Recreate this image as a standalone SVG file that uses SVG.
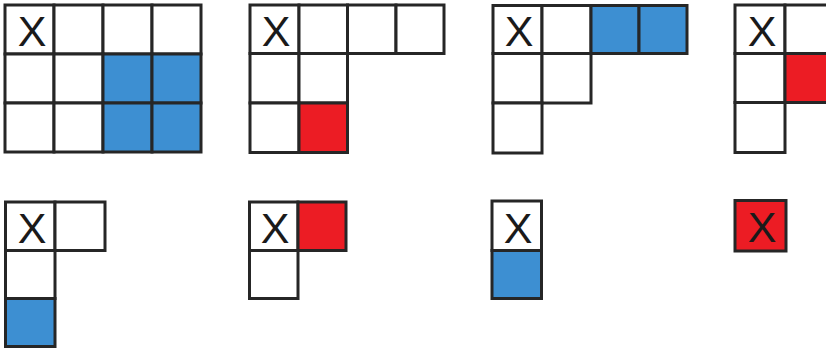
<svg xmlns="http://www.w3.org/2000/svg" width="826" height="351" viewBox="0 0 826 351">
<style>
.w,.b,.r{stroke:#262626;stroke-width:3}
.w{fill:#fff}
.b{fill:#3d8fd2}
.r{fill:#ec1c24}
.x{font-family:"Liberation Sans",Arial,sans-serif;font-size:43px;fill:#1a1a1a;text-anchor:middle}
</style>
<rect x="0" y="0" width="826" height="351" fill="#fff"/>
<g id="grid1">
<rect class="w" x="5" y="5" width="49" height="49"/>
<rect class="w" x="54" y="5" width="49" height="49"/>
<rect class="w" x="103" y="5" width="49" height="49"/>
<rect class="w" x="152" y="5" width="49" height="49"/>
<rect class="w" x="5" y="54" width="49" height="49"/>
<rect class="w" x="54" y="54" width="49" height="49"/>
<rect class="b" x="103" y="54" width="49" height="49"/>
<rect class="b" x="152" y="54" width="49" height="49"/>
<rect class="w" x="5" y="103" width="49" height="49"/>
<rect class="w" x="54" y="103" width="49" height="49"/>
<rect class="b" x="103" y="103" width="49" height="49"/>
<rect class="b" x="152" y="103" width="49" height="49"/>
<text class="x" x="32" y="46">X</text>
</g>
<g id="grid2">
<rect class="w" x="250" y="5" width="49" height="48.5"/>
<rect class="w" x="299" y="5" width="48.5" height="48.5"/>
<rect class="w" x="347.5" y="5" width="48.5" height="48.5"/>
<rect class="w" x="396" y="5" width="48" height="48.5"/>
<rect class="w" x="250" y="53.5" width="49" height="49.5"/>
<rect class="w" x="299" y="53.5" width="48.5" height="49.5"/>
<rect class="w" x="250" y="103" width="49" height="49.5"/>
<rect class="r" x="299" y="103" width="48.5" height="49.5"/>
<text class="x" x="276" y="46">X</text>
</g>
<g id="grid3">
<rect class="w" x="493" y="5.5" width="49" height="48"/>
<rect class="w" x="542" y="5.5" width="49" height="48"/>
<rect class="b" x="591" y="5.5" width="48" height="48"/>
<rect class="b" x="639" y="5.5" width="48" height="48"/>
<rect class="w" x="493" y="53.5" width="49" height="49.5"/>
<rect class="w" x="542" y="53.5" width="49" height="49.5"/>
<rect class="w" x="493" y="103" width="49" height="50"/>
<text class="x" x="519" y="46">X</text>
</g>
<g id="grid4">
<rect class="w" x="735" y="5" width="50" height="48.5"/>
<rect class="w" x="785" y="5" width="50" height="48.5"/>
<rect class="w" x="735" y="53.5" width="50" height="49"/>
<rect class="r" x="785" y="53.5" width="50" height="49"/>
<rect class="w" x="735" y="102.5" width="50" height="50"/>
<text class="x" x="762" y="46">X</text>
</g>
<g id="grid5">
<rect class="w" x="5.5" y="202" width="49.5" height="48.5"/>
<rect class="w" x="55" y="202" width="50" height="48.5"/>
<rect class="w" x="5.5" y="250.5" width="49.5" height="48"/>
<rect class="b" x="5.5" y="298.5" width="49.5" height="48"/>
<text class="x" x="32" y="243">X</text>
</g>
<g id="grid6">
<rect class="w" x="249.5" y="202" width="48.5" height="48.5"/>
<rect class="r" x="298" y="202" width="48" height="48.5"/>
<rect class="w" x="249.5" y="250.5" width="48.5" height="48"/>
<text class="x" x="275" y="243">X</text>
</g>
<g id="grid7">
<rect class="w" x="492" y="201" width="49.5" height="49.5"/>
<rect class="b" x="492" y="250.5" width="49.5" height="48"/>
<text class="x" x="518" y="243">X</text>
</g>
<g id="grid8">
<rect class="r" x="735" y="200.5" width="51" height="50.5"/>
<text class="x" x="762" y="242">X</text>
</g>
</svg>
